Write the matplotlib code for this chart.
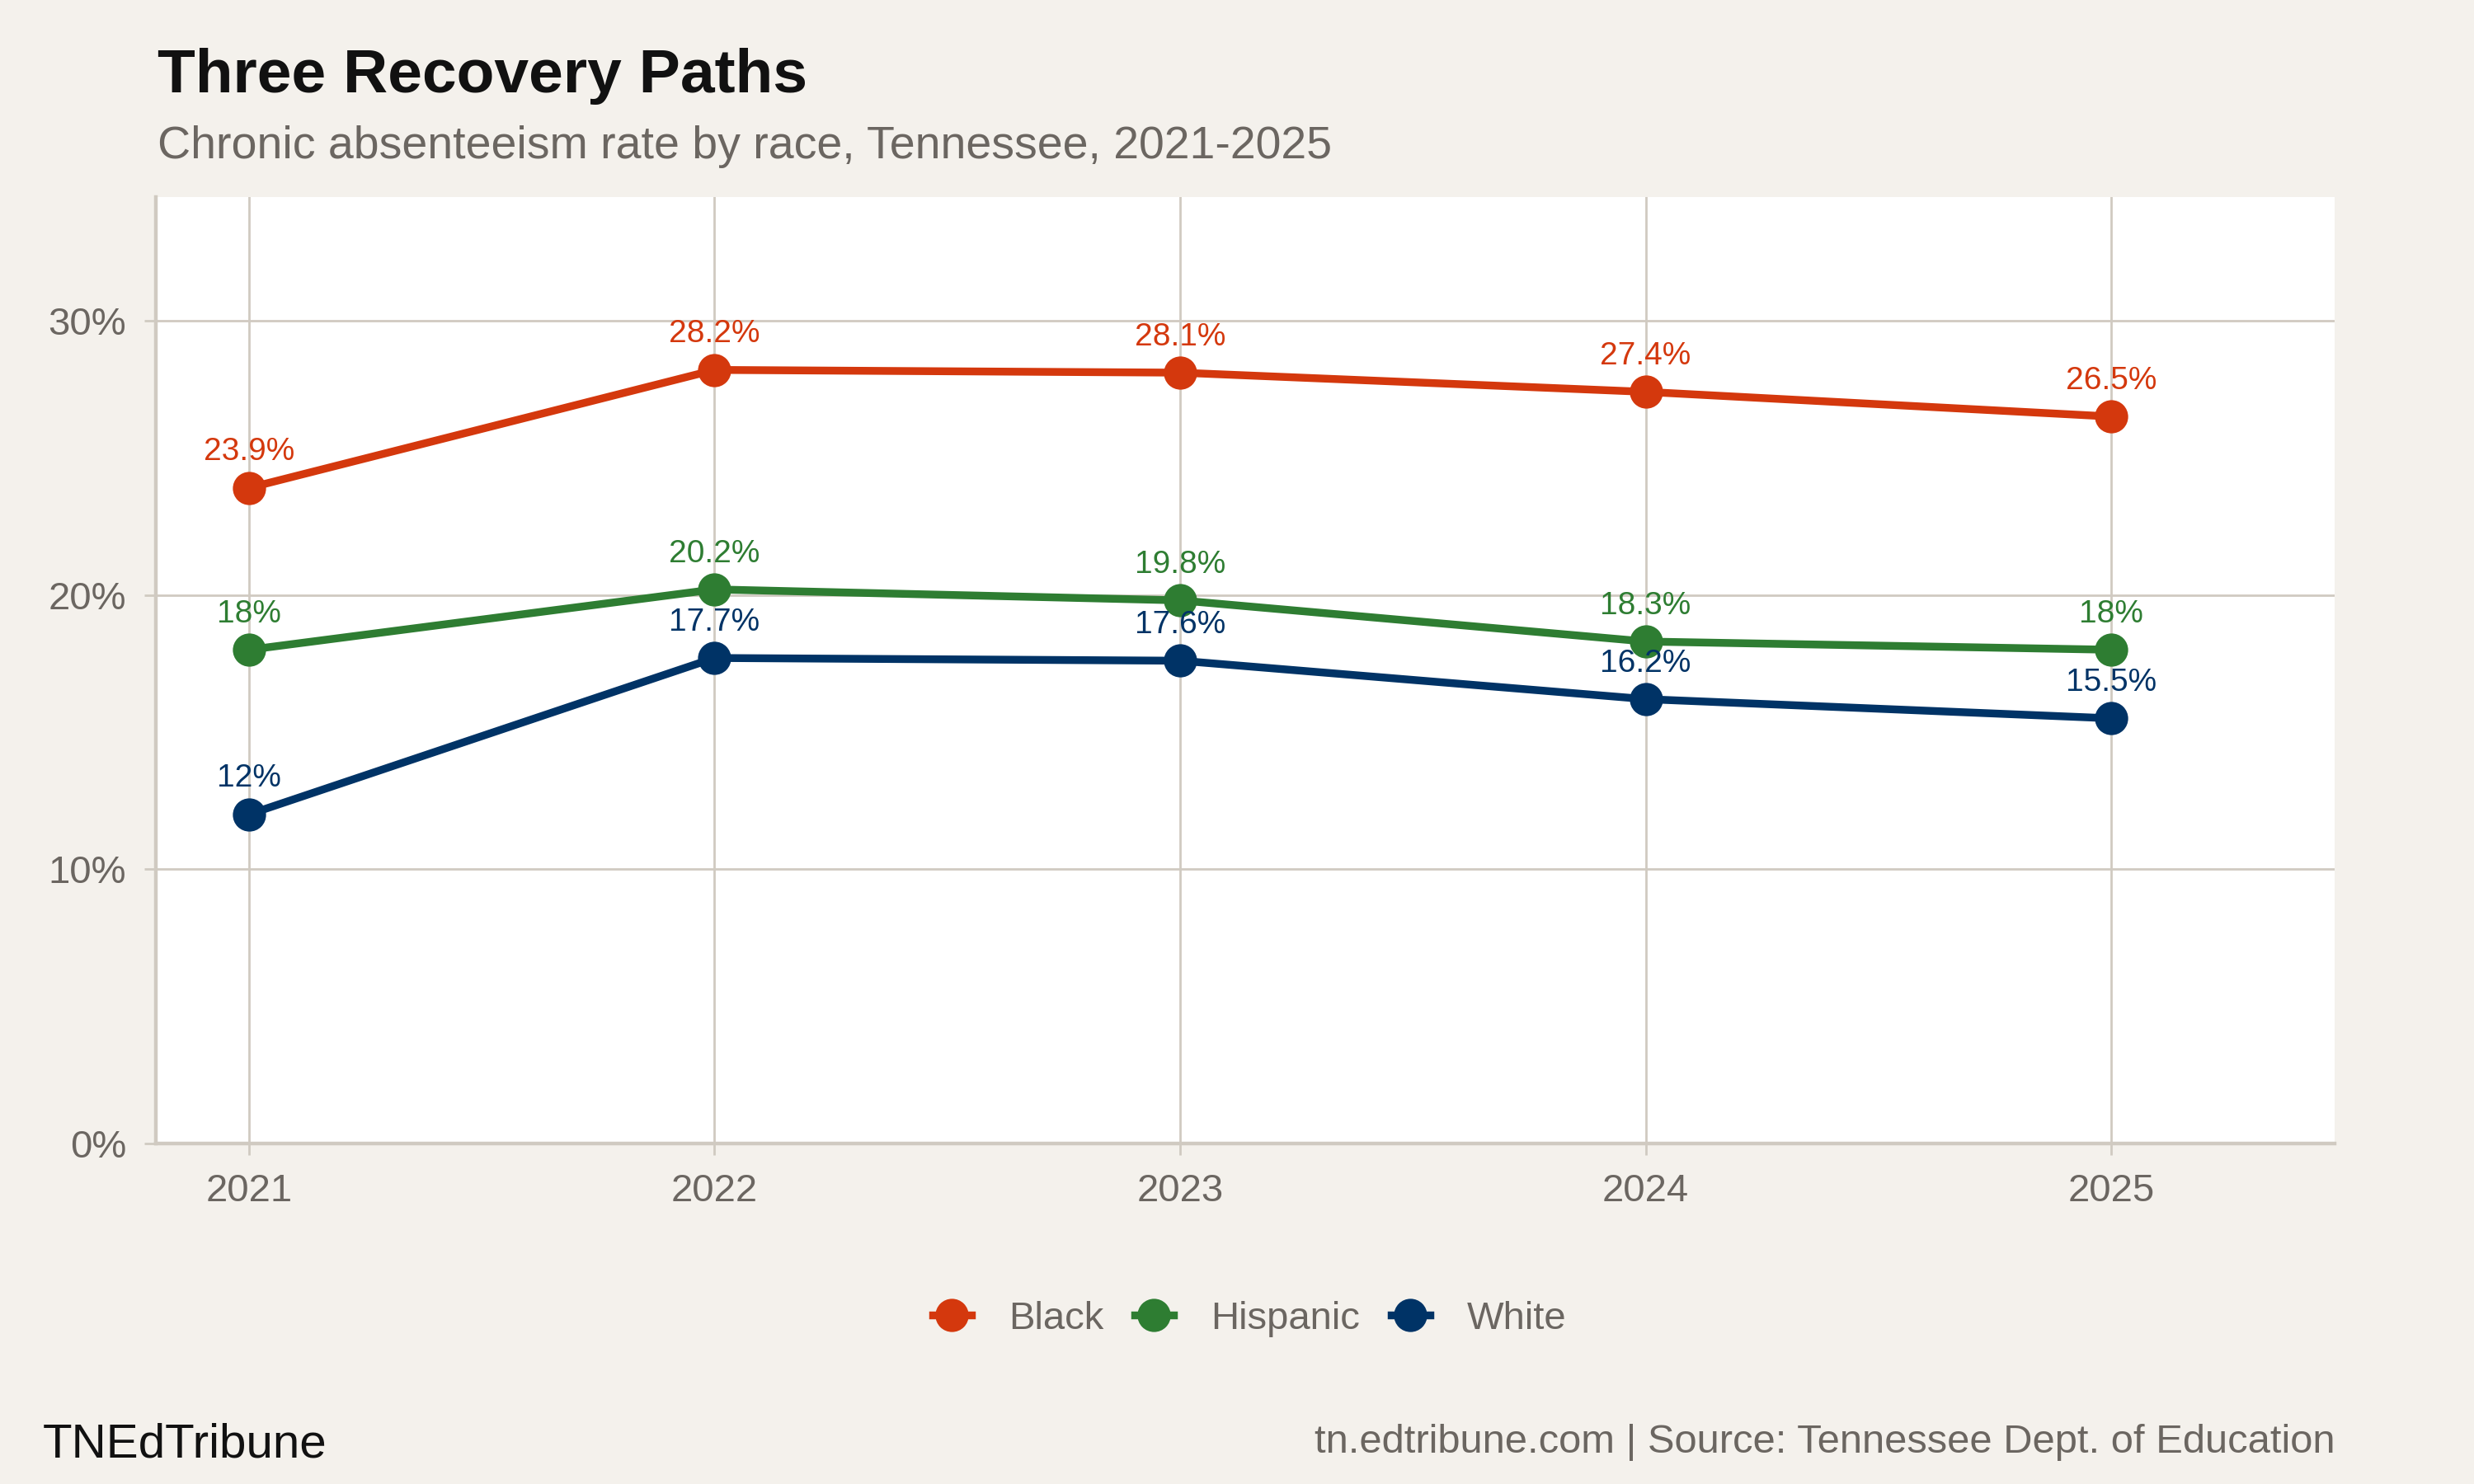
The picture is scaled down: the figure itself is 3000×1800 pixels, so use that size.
import matplotlib
matplotlib.use("Agg")
from matplotlib import pyplot as plt

plt.rcParams['font.family'] = ['Liberation Sans', 'DejaVu Sans']

years = [2021, 2022, 2023, 2024, 2025]
black = [23.9, 28.2, 28.1, 27.4, 26.5]
hispanic = [18.0, 20.2, 19.8, 18.3, 18.0]
white = [12.0, 17.7, 17.6, 16.2, 15.5]
series_names = ['Black', 'Hispanic', 'White']
series_colors = ['#D4380D', '#2E7D32', '#003366']
y_ticks = [0, 10, 20, 30]

bg = '#F4F1EC'
grid_col = '#D0CAC1'
text_gray = '#6B6661'

fig = plt.figure(figsize=(15, 9), dpi=200, facecolor=bg)
ax = fig.add_axes([0.063, 0.2294, 0.8807, 0.6378])
ax.set_facecolor('white')

for name, vals, col in zip(series_names, [black, hispanic, white], series_colors):
    ax.plot(years, vals, color=col, linewidth=3.4, marker='o', markersize=13.5,
            label=name, zorder=3)
    for x, v in zip(years, vals):
        ax.annotate(f"{v:g}%", (x, v), xytext=(0, 12), textcoords='offset points',
                    ha='center', va='baseline', fontsize=14, color=col, zorder=4)

ax.set_xlim(2020.8, 2025.48)
ax.set_ylim(0, 34.5)
ax.set_xticks(years)
ax.set_xticklabels([str(y) for y in years])
ax.set_yticks(y_ticks)
ax.set_yticklabels([f"{t}%" for t in y_ticks])

ax.grid(True, color=grid_col, linewidth=1.0, zorder=0)
ax.set_axisbelow(True)
for s in ['top', 'right']:
    ax.spines[s].set_visible(False)
for s in ['left', 'bottom']:
    ax.spines[s].set_color(grid_col)
    ax.spines[s].set_linewidth(1.6)
ax.tick_params(axis='both', colors=grid_col, labelcolor=text_gray, labelsize=17,
               length=5, width=1.0)
ax.tick_params(axis='x', pad=8)
ax.tick_params(axis='y', pad=8)

fig.text(0.0637, 1 - 112 / 1800, "Three Recovery Paths", fontsize=27, fontweight='bold',
         color='#111111', va='baseline', ha='left')
fig.text(0.0637, 1 - 192 / 1800, "Chronic absenteeism rate by race, Tennessee, 2021-2025",
         fontsize=20, color=text_gray, va='baseline', ha='left')

fig.legend(loc='center', bbox_to_anchor=(0.505, 1 - 1600 / 1800), ncol=3, frameon=False,
           fontsize=17, labelcolor=text_gray, handlelength=1.0, handletextpad=0.95,
           columnspacing=0.8)

fig.text(0.0173, 1 - 1767 / 1800, "TNEdTribune", fontsize=21, color='#111111',
         va='baseline', ha='left')
fig.text(0.9437, 1 - 1762 / 1800, "tn.edtribune.com | Source: Tennessee Dept. of Education",
         fontsize=17.6, color=text_gray, va='baseline', ha='right')

fig.savefig('out.png', dpi=200, facecolor=bg)
